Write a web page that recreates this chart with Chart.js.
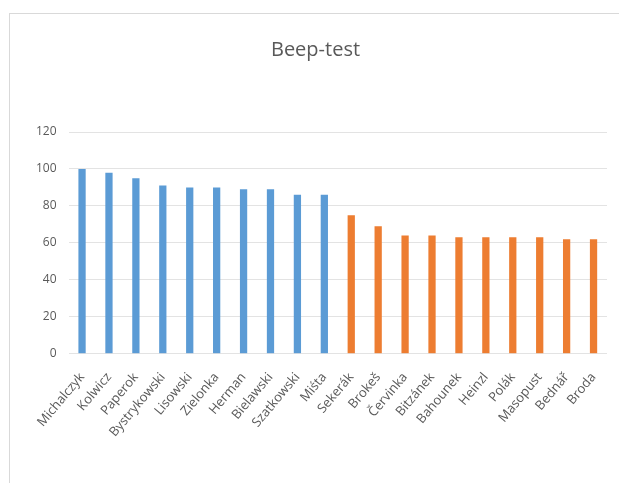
<!DOCTYPE html>
<html>
<head>
<meta charset="utf-8">
<script src="https://cdn.jsdelivr.net/npm/chart.js@4"></script>
<style>
  html, body { margin: 0; padding: 0; background: #fff; }
  #frame { position: absolute; left: 9px; top: 13px; width: 640px; height: 500px; border: 1px solid #d9d9d9; }
  #wrap { position: absolute; left: 0; top: 0; width: 619px; height: 483px; }
</style>
</head>
<body>
<div id="frame"></div>
<div id="wrap"><canvas id="chart"></canvas></div>
<script>
// Athletes and their beep-test scores
const athletes = [
  "Michalczyk", "Kolwicz", "Paperok", "Bystrykowski", "Lisowski",
  "Zielonka", "Herman", "Bielawski", "Szatkowski", "Miśta",
  "Sekerák", "Brokeš", "Červinka", "Bitzánek", "Bahounek",
  "Heinzl", "Polák", "Masopust", "Bednář", "Broda"
];
const scores = [100, 98, 95, 91, 90, 90, 89, 89, 86, 86, 75, 69, 64, 64, 63, 63, 63, 63, 62, 62];
const groups = ["PL", "PL", "PL", "PL", "PL", "PL", "PL", "PL", "PL", "PL",
                "CZ", "CZ", "CZ", "CZ", "CZ", "CZ", "CZ", "CZ", "CZ", "CZ"];
const yTicks = [0, 20, 40, 60, 80, 100, 120];

const groupColors = { PL: "#5B9BD5", CZ: "#ED7D31" };
const textColor = "#595959";
const font = "'Open Sans', 'Noto Sans', sans-serif";

new Chart(document.getElementById("chart"), {
  type: "bar",
  data: {
    labels: athletes,
    datasets: [{
      label: "Beep-test",
      data: scores,
      backgroundColor: groups.map(g => groupColors[g]),
      barPercentage: 0.27,
      categoryPercentage: 1
    }]
  },
  options: {
    responsive: true,
    maintainAspectRatio: false,
    animation: false,
    layout: { padding: { left: 24, right: 12, top: 38, bottom: 35 } },
    plugins: {
      legend: { display: false },
      tooltip: { enabled: false },
      title: {
        display: true,
        text: "Beep-test",
        color: textColor,
        font: { family: font, size: 20, weight: "normal" },
        padding: { top: 0, bottom: 70 }
      }
    },
    scales: {
      x: {
        grid: { display: false },
        border: { display: false },
        ticks: {
          color: textColor,
          font: { family: font, size: 13 },
          minRotation: 50,
          maxRotation: 50,
          autoSkip: false,
          padding: 8
        }
      },
      y: {
        min: 0,
        max: 120,
        afterBuildTicks: axis => { axis.ticks = yTicks.map(v => ({ value: v })); },
        grid: { color: "#e3e3e3", drawTicks: false },
        border: { display: false },
        ticks: {
          color: textColor,
          font: { family: font, size: 12 },
          padding: 12
        }
      }
    }
  }
});
</script>
</body>
</html>
